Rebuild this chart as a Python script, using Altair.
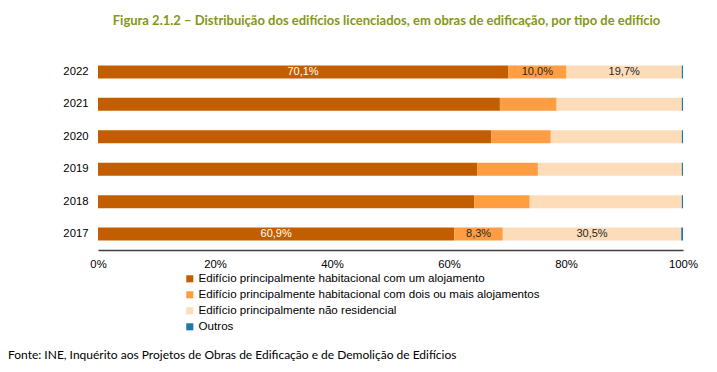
import altair as alt
import pandas as pd

years = ["2022", "2021", "2020", "2019", "2018", "2017"]
categories = [
    "Edifício principalmente habitacional com um alojamento",
    "Edifício principalmente habitacional com dois ou mais alojamentos",
    "Edifício principalmente não residencial",
    "Outros",
]
um_aloj = [70.1, 68.7, 67.2, 64.8, 64.3, 60.9]
dois_aloj = [10.0, 9.7, 10.2, 10.4, 9.5, 8.3]
nao_resid = [19.7, 21.4, 22.4, 24.6, 26.0, 30.5]
outros = [0.2, 0.2, 0.2, 0.2, 0.2, 0.3]
labelled_years = ["2022", "2017"]
colors = ["#C25E00", "#FF9D42", "#FDDCBA", "#1F78A8"]

title = "Figura 2.1.2 – Distribuição dos edifícios licenciados, em obras de edificação, por tipo de edifício"
source = "Fonte: INE, Inquérito aos Projetos de Obras de Edificação e de Demolição de Edifícios"

series = [um_aloj, dois_aloj, nao_resid, outros]
rows = []
for i, y in enumerate(years):
    for k, cat in enumerate(categories):
        v = series[k][i]
        lab = ""
        if y in labelled_years and k < 3:
            lab = f"{v:.1f}".replace(".", ",") + "%"
        rows.append({"ano": y, "tipo": cat, "ordem": k, "valor": v, "rotulo": lab})
df = pd.DataFrame(rows)

FONT = "Liberation Sans"

base = alt.Chart(df).transform_stack(
    stack="valor", groupby=["ano"], as_=["ini", "fim"], sort=[alt.SortField("ordem")]
).transform_calculate(meio="(datum.ini + datum.fim) / 2")

y_enc = alt.Y(
    "ano:N",
    sort=years,
    title=None,
    scale=alt.Scale(paddingInner=0.6, paddingOuter=0.29),
    axis=alt.Axis(domain=False, ticks=False, labelPadding=10, labelFontSize=11.3,
                  labelColor="#000000", labelFont=FONT),
)

bars = base.mark_bar().encode(
    x=alt.X("ini:Q", scale=alt.Scale(domain=[0, 100]), title=None,
            axis=alt.Axis(values=[0, 20, 40, 60, 80, 100], labelExpr="datum.value + '%'",
                          grid=False, ticks=False, domainColor="#404040", domainWidth=1.5,
                          labelPadding=8, labelFontSize=11.3, labelColor="#000000",
                          labelFont=FONT, labelFlush=False)),
    x2="fim:Q",
    y=y_enc,
    color=alt.Color("tipo:N", scale=alt.Scale(domain=categories, range=colors),
                    legend=alt.Legend(title=None, orient="none", legendX=86, legendY=217,
                                      symbolType="square", symbolSize=50,
                                      symbolStrokeWidth=0, labelFontSize=11.6,
                                      labelFont=FONT, labelColor="#000000",
                                      rowPadding=3, padding=0, labelLimit=500,
                                      labelOffset=3, symbolOffset=0)),
)

texts = base.transform_filter("datum.rotulo != ''").mark_text(
    fontSize=11, font=FONT
).encode(
    x="meio:Q",
    y=alt.Y("ano:N", sort=years),
    text="rotulo:N",
    color=alt.condition("datum.ordem == 0", alt.value("#FFFFFF"), alt.value("#262626")),
)

fonte = alt.Chart(pd.DataFrame({"t": [source]})).mark_text(
    align="left", baseline="middle", fontSize=12, font="Lato", color="#000000"
).encode(x=alt.value(-90), y=alt.value(299), text="t:N")

chart = alt.layer(bars, texts, fonte).properties(
    width=585,
    height=194,
    padding={"left": 90, "top": 48, "right": 20, "bottom": 113},
    autosize=alt.AutoSizeParams(type="none"),
    title=alt.TitleParams(title, anchor="middle", fontSize=13, font="Lato",
                          fontWeight="bold", color="#869616", offset=28, dx=-4),
).configure_view(stroke=None)

chart.save("out.html", embed_options={"renderer": "svg", "actions": False})
